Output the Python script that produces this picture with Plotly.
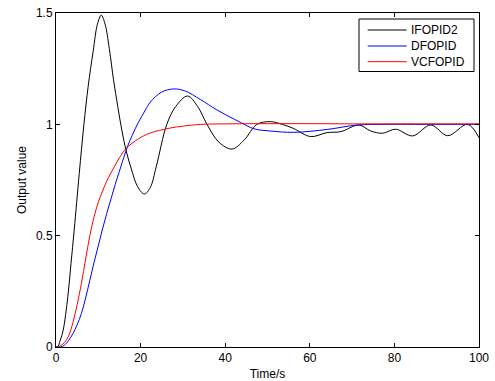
import plotly.graph_objects as go

# IFOPID2 (black)
t_ifo = [0, 0.4, 1.0, 1.7, 2.8, 3.55, 4.3, 5.5, 6.6, 7.6, 8.8, 9.8, 10.7, 11.6, 12.6, 13.6,
         14.6, 15.6, 16.6, 17.8, 19.3, 20.9, 22.3, 23.7, 26.2, 28.3, 31.1, 33.5, 35.7, 38.5,
         41.6, 44.5, 47.5, 50.7, 53.5, 56.2, 60.2, 64.1, 67.3, 71.6, 74.4, 77.2, 80.3, 84.3,
         88.6, 92.6, 97.3, 100]
y_ifo = [0, 0, 0.03, 0.076, 0.226, 0.376, 0.525, 0.78, 1.0, 1.17, 1.33, 1.45, 1.49, 1.45, 1.34, 1.2,
         1.08, 0.97, 0.88, 0.8, 0.72, 0.687, 0.717, 0.81, 1.0, 1.08, 1.127, 1.08, 1.0, 0.92,
         0.889, 0.93, 1.0, 1.012, 1.0, 0.981, 0.945, 0.963, 0.967, 0.997, 0.97, 0.96, 0.978, 0.948,
         0.997, 0.949, 1.0, 0.94]

# DFOPID (blue)
t_dfo = [0, 1.0, 2.0, 3.0, 4.0, 5.0, 6.0, 7.0, 8.0, 9.0, 10.0, 11.0, 12.0, 13.0, 14.0, 15.0,
         16.0, 17.0, 18.0, 19.5, 21.0, 22.3, 25.0, 27.8, 30.5, 34.1, 38.1, 43.6, 46.8, 50.7,
         56.2, 64.1, 71.3, 78, 85, 100]
y_dfo = [0, 0, 0.008, 0.03, 0.06, 0.1, 0.15, 0.22, 0.3, 0.38, 0.455, 0.53, 0.6, 0.665, 0.73, 0.79,
         0.85, 0.905, 0.95, 1.01, 1.06, 1.1, 1.145, 1.159, 1.15, 1.112, 1.064, 1.009, 0.98, 0.97,
         0.964, 0.977, 0.997, 1.0, 1.0, 1.0]

# VCFOPID (red)
t_vcf = [0, 0.5, 1.0, 2.0, 3.0, 4.0, 5.0, 6.0, 7.0, 8.0, 9.0, 10.0, 11.0, 12.0, 13.8, 15.0,
         16.6, 19.5, 22.1, 26.9, 30, 34.1, 40, 50, 60, 70, 80, 90, 100]
y_vcf = [0, 0, 0.005, 0.02, 0.05, 0.11, 0.19, 0.285, 0.395, 0.5, 0.585, 0.65, 0.7, 0.745, 0.81, 0.85,
         0.892, 0.935, 0.96, 0.983, 0.992, 0.9995, 1.002, 1.003, 1.003, 1.002, 1.002, 1.002, 1.002]

x_ticks = [0, 20, 40, 60, 80, 100]
y_ticks = [0, 0.5, 1, 1.5]
y_tick_labels = ["0", "0.5", "1", "1.5"]

series_names = ["IFOPID2", "DFOPID", "VCFOPID"]
series_colors = ["black", "blue", "red"]

W, H = 495, 381
ML, MR, MT, MB = 56, 16, 13, 34
PW, PH = W - ML - MR, H - MT - MB


def px_x(p):
    return (p - ML) / PW


def px_y(p):
    return (H - MB - p) / PH


fig = go.Figure()
for tx, ty, nm, col in [(t_ifo, y_ifo, series_names[0], series_colors[0]),
                        (t_dfo, y_dfo, series_names[1], series_colors[1]),
                        (t_vcf, y_vcf, series_names[2], series_colors[2])]:
    fig.add_trace(go.Scatter(x=tx, y=ty, mode="lines", name=nm, showlegend=False,
                             line=dict(color=col, width=1, shape="spline", smoothing=1.0)))

font = dict(family="Liberation Sans, Arial, sans-serif", size=12, color="black")

# legend box drawn as in the reference (MATLAB style)
shapes = [dict(type="rect", xref="paper", yref="paper",
               x0=px_x(359), x1=px_x(474), y0=px_y(71.5), y1=px_y(19),
               line=dict(color="black", width=1), fillcolor="white", layer="above")]
annotations = []
row_y = [30, 46, 61.7]
for nm, col, ry in zip(series_names, series_colors, row_y):
    shapes.append(dict(type="line", xref="paper", yref="paper",
                       x0=px_x(367.7), x1=px_x(406.7), y0=px_y(ry), y1=px_y(ry),
                       line=dict(color=col, width=1), layer="above"))
    annotations.append(dict(text=nm, xref="paper", yref="paper", x=px_x(409), y=px_y(ry),
                            xanchor="left", yanchor="middle", showarrow=False, font=font))

fig.update_layout(
    width=W, height=H,
    margin=dict(l=ML, r=MR, t=MT, b=MB),
    paper_bgcolor="white", plot_bgcolor="white",
    font=font,
    showlegend=False,
    shapes=shapes,
    annotations=annotations,
    xaxis=dict(range=[0, 100], tickvals=x_ticks, showgrid=False, zeroline=False,
               showline=True, linecolor="black", linewidth=1, mirror="ticks",
               ticks="inside", ticklen=4, tickcolor="black", automargin=False,
               title=dict(text="Time/s", standoff=5, font=font)),
    yaxis=dict(range=[0, 1.5], tickvals=y_ticks, ticktext=y_tick_labels, showgrid=False,
               zeroline=False, showline=True, linecolor="black", linewidth=1, mirror="ticks",
               ticks="inside", ticklen=4, tickcolor="black", automargin=False,
               title=dict(text="Output value", standoff=6, font=font)),
)

fig.write_html("out.html")
